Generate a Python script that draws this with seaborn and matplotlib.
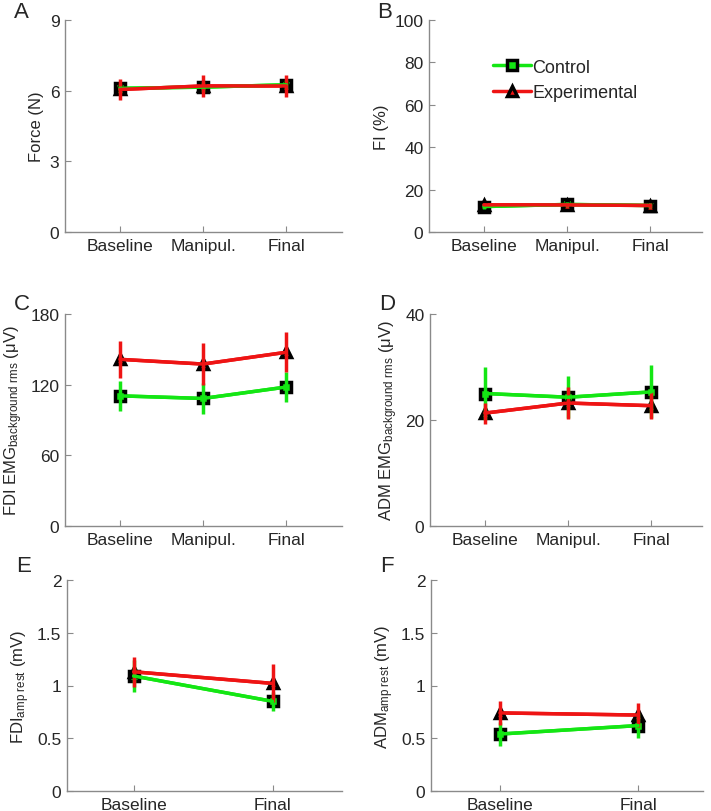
import numpy as np
import pandas as pd
import matplotlib
matplotlib.use("Agg")
import matplotlib.pyplot as plt
from matplotlib.lines import Line2D
import seaborn as sns

# ── data (mean ± error) ───────────────────────────────────────
cond3 = ["Baseline", "Manipul.", "Final"]
cond2 = ["Baseline", "Final"]
groups = ["Control", "Experimental"]

force_ctrl = [6.1, 6.15, 6.25]
force_ctrl_err = [0.2, 0.2, 0.2]
force_exp = [6.05, 6.2, 6.2]
force_exp_err = [0.45, 0.45, 0.45]

fi_ctrl = [12.0, 13.0, 12.5]
fi_ctrl_err = [1.0, 1.0, 1.0]
fi_exp = [12.8, 12.8, 12.5]
fi_exp_err = [1.0, 1.0, 1.0]

fdi_emg_ctrl = [110.5, 108.3, 118.0]
fdi_emg_ctrl_err = [13.0, 13.0, 12.6]
fdi_emg_exp = [141.5, 137.5, 147.5]
fdi_emg_exp_err = [16.0, 18.0, 17.0]

adm_emg_ctrl = [25.0, 24.3, 25.3]
adm_emg_ctrl_err = [5.0, 4.0, 5.0]
adm_emg_exp = [21.3, 23.2, 22.7]
adm_emg_exp_err = [2.0, 3.0, 2.6]

fdi_amp_ctrl = [1.09, 0.85]
fdi_amp_ctrl_err = [0.15, 0.09]
fdi_amp_exp = [1.13, 1.02]
fdi_amp_exp_err = [0.14, 0.18]

adm_amp_ctrl = [0.54, 0.62]
adm_amp_ctrl_err = [0.11, 0.12]
adm_amp_exp = [0.74, 0.72]
adm_amp_exp_err = [0.11, 0.11]

colors = {"Control": "#14e614", "Experimental": "#ee1414"}
markers = {"Control": "s", "Experimental": "^"}

sns.set_style("white")
plt.rcParams["font.family"] = ["Liberation Sans", "DejaVu Sans"]
plt.rcParams["mathtext.fontset"] = "custom"
plt.rcParams["mathtext.rm"] = "Liberation Sans"
plt.rcParams["mathtext.it"] = "Liberation Sans:italic"

fig = plt.figure(figsize=(7.11, 8.12), dpi=100)
W, H = 711, 812


def add_ax(x0, y_top, x1, y_bot):
    return fig.add_axes([x0 / W, 1 - y_bot / H, (x1 - x0) / W, (y_bot - y_top) / H])


def panel(ax, cats, ctrl, ctrl_err, exp, exp_err, yticks, yticklabels, ylabel, xlim):
    df = pd.DataFrame({
        "pos": list(range(len(cats))) * 2,
        "mean": ctrl + exp,
        "err": ctrl_err + exp_err,
        "group": ["Control"] * len(cats) + ["Experimental"] * len(cats),
    })
    sns.lineplot(data=df, x="pos", y="mean", hue="group", style="group",
                 palette=colors, markers=markers, dashes=False, legend=False,
                 markersize=7.5, mec="black", mew=2.5, lw=2.5, ax=ax, zorder=2)
    for g in groups:
        sub = df[df["group"] == g]
        ax.errorbar(sub["pos"], sub["mean"], yerr=sub["err"], fmt="-",
                    color=colors[g], lw=2.5, elinewidth=2.5, capsize=0, zorder=3)
    ax.set_xlim(*xlim)
    ax.set_xticks(range(len(cats)))
    ax.set_xticklabels(cats)
    ax.set_ylim(yticks[0], yticks[-1])
    ax.set_yticks(yticks)
    ax.set_yticklabels(yticklabels)
    ax.set_xlabel("")
    ax.set_ylabel(ylabel, fontsize=12)
    for s in ["top", "right"]:
        ax.spines[s].set_visible(False)
    for s in ["left", "bottom"]:
        ax.spines[s].set_color("#8a8a8a")
        ax.spines[s].set_linewidth(1)
    ax.tick_params(direction="in", length=4, color="#8a8a8a", labelsize=12.5,
                   bottom=True, left=True, pad=4)


# ── row 1 ─────────────────────────────────────────────────────
axA = add_ax(65, 21, 342, 233)
panel(axA, cond3, force_ctrl, force_ctrl_err, force_exp, force_exp_err,
      [0, 3, 6, 9], ["0", "3", "6", "9"], "Force (N)", (-0.66, 2.67))

axB = add_ax(429, 21, 702, 233)
panel(axB, cond3, fi_ctrl, fi_ctrl_err, fi_exp, fi_exp_err,
      [0, 20, 40, 60, 80, 100], ["0", "20", "40", "60", "80", "100"], "FI (%)", (-0.66, 2.62))

handles = [Line2D([], [], color=colors[g], lw=2.5, marker=markers[g], markersize=7.5,
                  mfc=colors[g], mec="black", mew=2.5) for g in groups]
axB.legend(handles, groups, loc="upper left", bbox_to_anchor=(0.2, 0.86),
           frameon=False, fontsize=13, handlelength=2.1, handletextpad=0.1,
           labelspacing=0.45, borderaxespad=0.1)

# ── row 2 ─────────────────────────────────────────────────────
axC = add_ax(65, 315, 342, 527)
panel(axC, cond3, fdi_emg_ctrl, fdi_emg_ctrl_err, fdi_emg_exp, fdi_emg_exp_err,
      [0, 60, 120, 180], ["0", "60", "120", "180"],
      r"FDI EMG$_{\mathrm{background\ rms}}$ ($\mathrm{\mu}$V)", (-0.66, 2.67))

axD = add_ax(430, 315, 702, 527)
panel(axD, cond3, adm_emg_ctrl, adm_emg_ctrl_err, adm_emg_exp, adm_emg_exp_err,
      [0, 20, 40], ["0", "20", "40"],
      r"ADM EMG$_{\mathrm{background\ rms}}$ ($\mathrm{\mu}$V)", (-0.66, 2.61))

# ── row 3 ─────────────────────────────────────────────────────
amp_ticks = [0, 0.5, 1, 1.5, 2]
amp_labels = ["0", "0.5", "1", "1.5", "2"]
axE = add_ax(67, 581, 342, 792)
panel(axE, cond2, fdi_amp_ctrl, fdi_amp_ctrl_err, fdi_amp_exp, fdi_amp_exp_err,
      amp_ticks, amp_labels, r"FDI$_{\mathrm{amp\ rest}}$ (mV)", (-0.48, 1.5))

axF = add_ax(431, 581, 703, 792)
panel(axF, cond2, adm_amp_ctrl, adm_amp_ctrl_err, adm_amp_exp, adm_amp_exp_err,
      amp_ticks, amp_labels, r"ADM$_{\mathrm{amp\ rest}}$ (mV)", (-0.5, 1.47))

# ── panel letters ─────────────────────────────────────────────
for letter, (px, py) in zip("ABCDEF", [(21, 13), (385, 12), (22, 305),
                                        (387, 305), (24, 567), (387, 567)]):
    fig.text(px / W, 1 - py / H, letter, fontsize=16, ha="center", va="center")

fig.savefig("out.png", dpi=100)
